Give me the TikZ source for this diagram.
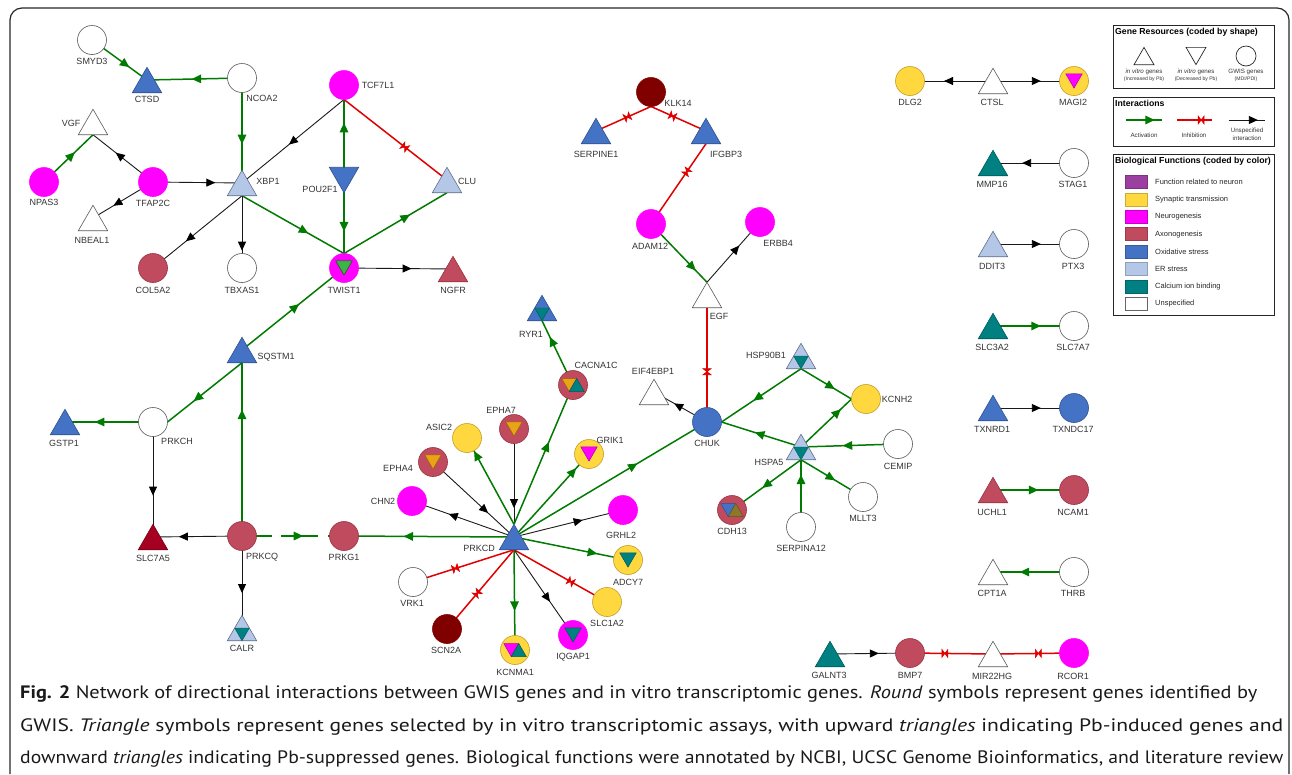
\documentclass[tikz,border=0pt]{standalone}
\usepackage{fontspec}
\usepackage{graphicx}
\setsansfont{Liberation Sans}
\newfontfamily\capfont{PT Sans}
\usetikzlibrary{shapes.geometric, arrows.meta, decorations.markings}
\pgfdeclarelayer{bg}
\pgfsetlayers{bg,main}
\definecolor{cFn}{RGB}{155,64,160}
\definecolor{cSyn}{RGB}{255,216,64}
\definecolor{cSynD}{RGB}{196,156,40}
\definecolor{cNeu}{RGB}{255,0,255}
\definecolor{cAxo}{RGB}{192,74,94}
\definecolor{cAxoD}{RGB}{150,50,66}
\definecolor{cOx}{RGB}{68,114,196}
\definecolor{cOxD}{RGB}{47,82,143}
\definecolor{cER}{RGB}{180,199,231}
\definecolor{cERD}{RGB}{95,110,140}
\definecolor{cCa}{RGB}{0,128,128}
\definecolor{cCaD}{RGB}{0,90,90}
\definecolor{cMar}{RGB}{128,0,0}
\definecolor{cCrim}{RGB}{165,0,33}
\definecolor{cCrimD}{RGB}{120,0,20}
\definecolor{cOrg}{RGB}{232,163,23}
\definecolor{cOrgD}{RGB}{150,100,10}
\definecolor{cOlive}{RGB}{140,120,40}
\definecolor{cLgr}{RGB}{60,180,70}
\definecolor{cWD}{RGB}{90,90,90}
\definecolor{gEdge}{RGB}{0,122,0}
\definecolor{rEdge}{RGB}{224,0,0}
\tikzset{
  gc/.style 2 args={circle, minimum size=29pt, inner sep=0pt, fill=#1, draw=#2, line width=0.6pt},
  tu/.style 2 args={regular polygon, regular polygon sides=3, minimum size=34pt, inner sep=0pt, yshift=-4.25pt, fill=#1, draw=#2, line width=0.6pt},
  td/.style 2 args={regular polygon, regular polygon sides=3, shape border rotate=180, minimum size=34pt, inner sep=0pt, yshift=4.25pt, fill=#1, draw=#2, line width=0.6pt},
  lbl/.style={font=\sffamily\fontsize{9}{10}\selectfont, text=black!80, inner sep=0pt},
  actv/.style={draw=gEdge, line width=1.5pt, postaction={decorate, decoration={markings, mark=at position #1 with {\arrow{Triangle[length=9.5pt,width=8.5pt,color=gEdge]}}}}},
  actv/.default=0.6,
  unsp/.style={draw=black!90, line width=0.9pt, postaction={decorate, decoration={markings, mark=at position #1 with {\arrow{Triangle[length=9pt,width=8pt,color=black]}}}}},
  unsp/.default=0.6,
  inhb/.style={draw=rEdge, line width=1.5pt, postaction={decorate, decoration={markings, mark=at position #1 with {\filldraw[rEdge, line width=0.6pt, line join=miter] (-3pt,-4pt) -- (-3pt,4pt) -- (3pt,-4pt) -- (3pt,4pt) -- cycle;}}}},
  inhb/.default=0.6,
  lgbox/.style={draw=black!85, line width=1.3pt, inner sep=0pt, anchor=north west, minimum width=161pt},
  lgtitle/.style={anchor=north west, inner sep=0pt, font=\sffamily\bfseries\fontsize{8.7}{10}\selectfont},
  lgsmall/.style={inner sep=0pt, font=\sffamily\fontsize{6.2}{7}\selectfont, text=black!80},
  lgtiny/.style={inner sep=0pt, font=\sffamily\fontsize{5.1}{6}\selectfont, text=black!80},
  lgitem/.style={anchor=west, inner sep=0pt, font=\sffamily\fontsize{7.5}{8}\selectfont, text=black!85},
  swatch/.style={minimum width=22pt, minimum height=13pt, inner sep=0pt, fill=#1, draw=#1!80!black, line width=0.5pt},
  captext/.style={anchor=base west, inner sep=0pt, font=\capfont\fontsize{18}{20}\selectfont, text=black!90},
}
\newcommand{\GC}[5]{\coordinate (#1) at (#2); \path (#1) ++(0,14.5) coordinate (#1-b); \path (#1) ++(0,-14.5) coordinate (#1-a); \path (#1) ++(14.5,0) coordinate (#1-r); \path (#1) ++(-14.5,0) coordinate (#1-l); \node[gc={#3}{#4}] (#1-s) at (#1) {}; \node[lbl] (#1-t) at (#5) {#1};}
\newcommand{\GU}[5]{\coordinate (#1) at (#2); \path (#1) ++(0,12.75) coordinate (#1-b); \path (#1) ++(0,-12.75) coordinate (#1-a); \node[tu={#3}{#4}] (#1-s) at (#1) {}; \node[lbl] (#1-t) at (#5) {#1};}
\newcommand{\GD}[5]{\coordinate (#1) at (#2); \node[td={#3}{#4}] (#1-s) at (#1) {}; \node[lbl] (#1-t) at (#5) {#1};}
\newcommand{\inD}[3]{\node[regular polygon, regular polygon sides=3, shape border rotate=180, minimum size=19pt, inner sep=0pt, yshift=2.4pt, fill=#2, draw=#3, line width=0.5pt] (#1-i) at (#1) {};}
\newcommand{\inP}[5]{\begin{scope}[shift={(#1)}]\filldraw[fill=#2, draw=#3, line width=0.5pt] (-11.25,-6.5) -- (3.75,-6.5) -- (-3.75,6.5) -- cycle; \filldraw[fill=#4, draw=#5, line width=0.5pt] (-3.75,6.5) -- (11.25,6.5) -- (3.75,-6.5) -- cycle;\end{scope}}
\newcommand{\inM}[1]{\begin{scope}[shift={(#1)}]\filldraw[fill=cCa, draw=cCaD, line width=0.4pt] (-7.36,0) -- (7.36,0) -- (0,12.75) -- cycle;\end{scope}}
\begin{document}
\begin{tikzpicture}[x=1pt, y=-1pt]
\useasboundingbox (0,0) rectangle (1292,774);
\draw[line width=1.2pt, black!85, rounded corners=12pt] (10,774) -- (10,8) -- (1289,8) -- (1289,774);
% ---------- genes ----------
\GC{SMYD3}{92,40}{white}{cWD}{92,61}
\GU{CTSD}{147,80}{cOx}{cOxD}{147,99}
\GC{NCOA2}{242,78}{white}{cWD}{262,98}
\GC{TCF7L1}{344,85}{cNeu}{cNeu}{378,85}
\GU{VGF}{93,122}{white}{cWD}{71,123}
\GC{NPAS3}{44,182}{cNeu}{cNeu}{44,202}
\GC{TFAP2C}{153,182}{cNeu}{cNeu}{153,203}
\GU{XBP1}{242,183}{cER}{cERD}{268,181}
\GD{POU2F1}{344,180}{cOx}{cOxD}{320,189}
\GU{CLU}{447,180}{cER}{cERD}{467,181}
\GU{NBEAL1}{93,218}{white}{cWD}{92,240}
\GC{COL5A2}{153,268}{cAxo}{cAxoD}{153,290}
\GC{TBXAS1}{242,268}{white}{cWD}{242,290}
\GC{TWIST1}{344,268}{cNeu}{cNeu}{344,290}
\GU{NGFR}{453,269}{cAxo}{cAxoD}{453,290}
\GC{KLK14}{651,92}{cMar}{cMar}{678,103}
\GU{SERPINE1}{596,131}{cOx}{cOxD}{596,154}
\GU{IFGBP3}{706,131}{cOx}{cOxD}{726,154}
\GC{ADAM12}{651,224}{cNeu}{cNeu}{650,246}
\GC{ERBB4}{760,222}{cNeu}{cNeu}{778,243}
\GU{EGF}{707,295}{white}{cWD}{719,316}
\GU{RYR1}{542,308}{cOx}{cOxD}{531,334}
\GU{SQSTM1}{242,350}{cOx}{cOxD}{276,357}
\GC{CACNA1C}{573,385}{cAxo}{cAxoD}{596,365}
\GU{EIF4EBP1}{654,392}{white}{cWD}{653,371}
\GC{CHUK}{707,422}{cOx}{cOxD}{707,443}
\GU{HSP90B1}{801,356}{cER}{cERD}{766,355}
\GC{KCNH2}{866,399}{cSyn}{cSynD}{897,399}
\GU{HSPA5}{801,447}{cER}{cERD}{769,462}
\GC{CEMIP}{898,444}{white}{cWD}{898,466}
\GC{CDH13}{732,510}{cAxo}{cAxoD}{732,531}
\GC{MLLT3}{863,497}{white}{cWD}{863,518}
\GC{SERPINA12}{801,527}{white}{cWD}{801,548}
\GC{PRKCH}{153,422}{white}{cWD}{177,441}
\GU{GSTP1}{65,422}{cOx}{cOxD}{64,443}
\GU{SLC7A5}{153,537}{cCrim}{cCrimD}{153,558}
\GC{PRKCQ}{242,536}{cAxo}{cAxoD}{262,557}
\GC{PRKG1}{344,536}{cAxo}{cAxoD}{344,557}
\GU{CALR}{242,628}{cER}{cERD}{242,648}
\GU{PRKCD}{514,537}{cOx}{cOxD}{479,548}
\GC{ASIC2}{467,438}{cSyn}{cSynD}{439,427}
\GC{EPHA7}{514,429}{cAxo}{cAxoD}{501,410}
\GC{EPHA4}{433,462}{cAxo}{cAxoD}{398,468}
\GC{GRIK1}{589,454}{cSyn}{cSynD}{610,440}
\GC{CHN2}{412,501}{cNeu}{cNeu}{383,501}
\GC{GRHL2}{623,510}{cNeu}{cNeu}{621,535}
\GC{ADCY7}{628,560}{cSyn}{cSynD}{628,582}
\GC{VRK1}{413,582}{white}{cWD}{412,603}
\GC{SLC1A2}{607,602}{cSyn}{cSynD}{607,623}
\GC{SCN2A}{447,629}{cMar}{cMar}{446,650}
\GC{IQGAP1}{573,635}{cNeu}{cNeu}{573,657}
\GC{KCNMA1}{515,650}{cSyn}{cSynD}{515,672}
\GU{GALNT3}{830,654}{cCa}{cCaD}{829,675}
\GC{BMP7}{910,653}{cAxo}{cAxoD}{910,675}
\GU{MIR22HG}{993,654}{white}{cWD}{992,676}
\GC{RCOR1}{1074,653}{cNeu}{cNeu}{1073,676}
\GC{DLG2}{910,81}{cSyn}{cSynD}{910,102}
\GU{CTSL}{993,81}{white}{cWD}{992,102}
\GC{MAGI2}{1074,81}{cSyn}{cSynD}{1073,102}
\GU{MMP16}{993,163}{cCa}{cCaD}{992,184}
\GC{STAG1}{1074,163}{white}{cWD}{1073,184}
\GU{DDIT3}{993,244}{cER}{cERD}{992,266}
\GC{PTX3}{1074,244}{white}{cWD}{1073,266}
\GU{SLC3A2}{993,326}{cCa}{cCaD}{992,347}
\GC{SLC7A7}{1074,326}{white}{cWD}{1073,347}
\GU{TXNRD1}{993,408}{cOx}{cOxD}{992,429}
\GC{TXNDC17}{1074,408}{cOx}{cOxD}{1073,429}
\GU{UCHL1}{993,490}{cAxo}{cAxoD}{992,512}
\GC{NCAM1}{1074,490}{cAxo}{cAxoD}{1073,512}
\GU{CPT1A}{993,572}{white}{cWD}{992,593}
\GC{THRB}{1074,572}{white}{cWD}{1073,593}
% ---------- inner marks ----------
\inD{TWIST1}{cLgr}{green!40!black}
\inD{EPHA4}{cOrg}{cOrgD}
\inD{EPHA7}{cOrg}{cOrgD}
\inD{GRIK1}{cNeu}{cNeu!70!black}
\inD{MAGI2}{cNeu}{cNeu!70!black}
\inD{ADCY7}{cCa}{cCaD}
\inD{IQGAP1}{cCa}{cCaD}
\inP{CACNA1C}{cOrg}{cOrgD}{cCa}{cCaD}
\inP{KCNMA1}{cNeu}{cNeu!70!black}{cCa}{cCaD}
\inP{CDH13}{cOx}{cOxD}{cOlive}{cOlive!70!black}
\inM{RYR1}
\inM{CALR}
\inM{HSP90B1}
\inM{HSPA5}
% ---------- connectors ----------
\begin{pgfonlayer}{bg}
\draw[actv=0.68] (SMYD3) -- (CTSD);
\draw[actv=0.53] (NCOA2) -- (CTSD);
\draw[actv=0.63] (NCOA2) -- (XBP1);
\draw[actv=0.63] (NPAS3) -- (VGF-b);
\draw[unsp=0.62] (TFAP2C) -- (VGF-b);
\draw[unsp=0.66] (TFAP2C) -- (NBEAL1);
\draw[unsp=0.70] (TFAP2C) -- (XBP1);
\draw[unsp=0.54] (TCF7L1-b) -- (XBP1);
\draw[actv=0.71] (POU2F1) -- (TCF7L1-b);
\draw[inhb=0.59] (TCF7L1-b) -- (CLU);
\draw[actv=0.70] (POU2F1) -- (TWIST1-a);
\draw[actv=0.65] (XBP1-b) -- (TWIST1-a);
\draw[actv=0.64] (TWIST1-a) -- (CLU-b);
\draw[unsp=0.63] (XBP1-b) -- (COL5A2);
\draw[unsp=0.76] (XBP1-b) -- (TBXAS1);
\draw[unsp=0.62] (TWIST1) -- (NGFR);
\draw[actv=0.56] (SQSTM1) -- (TWIST1);
\draw[actv=0.65] (SQSTM1-b) -- (PRKCH-r);
\draw[actv=0.66] (PRKCH) -- (GSTP1);
\draw[unsp=0.64] (PRKCH) -- (SLC7A5);
\draw[unsp=0.71] (PRKCQ) -- (SLC7A5);
\draw[actv=0.73] (PRKCQ) -- (SQSTM1-b);
\draw[actv=0.60, dash pattern=on 30pt off 9pt on 37pt off 10pt on 40pt] (PRKCQ) -- (PRKG1);
\draw[unsp=0.62] (PRKCQ) -- (CALR);
\draw[actv=0.65] (PRKCD) -- (PRKG1);
\draw[unsp=0.64] (PRKCD) -- (CHN2);
\draw[unsp=0.68] (EPHA4) -- (PRKCD);
\draw[actv=0.85] (PRKCD-a) -- (ASIC2);
\draw[unsp=0.83] (EPHA7) -- (PRKCD-a);
\draw[actv=0.59] (PRKCD-a) -- (CACNA1C);
\draw[actv=0.75] (CACNA1C) -- (RYR1-b);
\draw[actv=0.83] (PRKCD) -- (GRIK1);
\draw[actv=0.64] (PRKCD) -- (CHUK);
\draw[unsp=0.63] (PRKCD) -- (GRHL2);
\draw[actv=0.73] (PRKCD) -- (ADCY7);
\draw[inhb=0.61] (PRKCD-b) -- (SLC1A2);
\draw[unsp=0.61] (PRKCD-b) -- (IQGAP1);
\draw[actv=0.61] (PRKCD-b) -- (KCNMA1);
\draw[inhb=0.55] (PRKCD-b) -- (SCN2A);
\draw[inhb=0.58] (PRKCD-b) -- (VRK1);
\draw[unsp=0.62] (CHUK) -- (EIF4EBP1);
\draw[inhb=0.56] (EGF-b) -- (CHUK);
\draw[actv=0.80] (ADAM12) -- (EGF-a);
\draw[unsp=0.61] (EGF-a) -- (ERBB4);
\draw[inhb=0.35] (IFGBP3-b) -- (ADAM12);
\draw[inhb=0.43] (KLK14-b) -- (SERPINE1);
\draw[inhb=0.39] (KLK14-b) -- (IFGBP3);
\draw[actv=0.60] (HSP90B1-b) -- (CHUK-r);
\draw[actv=0.67] (HSP90B1-b) -- (KCNH2-l);
\draw[actv=0.58] (HSPA5) -- (CHUK-r);
\draw[actv=0.79] (HSPA5) -- (KCNH2-l);
\draw[actv=0.57] (CEMIP) -- (HSPA5);
\draw[actv=0.56] (HSPA5-b) -- (CDH13);
\draw[actv=0.78] (SERPINA12) -- (HSPA5-b);
\draw[actv=0.55] (HSPA5-b) -- (MLLT3);
\draw[unsp=0.61] (GALNT3) -- (BMP7);
\draw[inhb=0.58] (MIR22HG) -- (BMP7);
\draw[inhb=0.56] (MIR22HG) -- (RCOR1);
\draw[unsp=0.59] (CTSL) -- (DLG2);
\draw[unsp=0.59] (CTSL) -- (MAGI2);
\draw[unsp=0.64] (STAG1) -- (MMP16);
\draw[unsp=0.59] (DDIT3) -- (PTX3);
\draw[actv=0.59] (SLC3A2) -- (SLC7A7);
\draw[unsp=0.59] (TXNRD1) -- (TXNDC17);
\draw[actv=0.56] (UCHL1) -- (NCAM1);
\draw[actv=0.67] (THRB) -- (CPT1A);
\end{pgfonlayer}
% ---------- legend ----------
\node[lgbox, minimum height=63pt] (lgb1) at (1113,25) {};
\node[lgtitle] (lgt1) at (1115,27.5) {Gene Resources (coded by shape)};
\node[regular polygon, regular polygon sides=3, minimum size=23pt, inner sep=0pt, yshift=-2.9pt, draw=black!85, line width=0.7pt] (lgup) at (1144,56) {};
\node[regular polygon, regular polygon sides=3, shape border rotate=180, minimum size=23pt, inner sep=0pt, yshift=2.9pt, draw=black!85, line width=0.7pt] (lgdn) at (1196,56) {};
\node[circle, minimum size=20pt, inner sep=0pt, draw=black!85, line width=0.7pt] (lgci) at (1246,56) {};
\node[lgsmall] (lgs1) at (1144,72) {\textit{in vitro} genes};
\node[lgtiny] (lgs1b) at (1144,79) {(Increased by Pb)};
\node[lgsmall] (lgs2) at (1196,72) {\textit{in vitro} genes};
\node[lgtiny] (lgs2b) at (1196,79) {(Decreased by Pb)};
\node[lgsmall] (lgs3) at (1246,72) {GWIS genes};
\node[lgtiny] (lgs3b) at (1246,79) {(MDI/PDI)};
\node[lgbox, minimum height=49pt] (lgb2) at (1113,97) {};
\node[lgtitle] (lgt2) at (1115,99.5) {Interactions};
\coordinate (la1) at (1126,120); \coordinate (la2) at (1162,120);
\coordinate (li1) at (1177,120); \coordinate (li2) at (1212,120);
\coordinate (lu1) at (1229,120); \coordinate (lu2) at (1265,120);
\draw[actv=0.8] (la1) -- (la2);
\draw[inhb=0.69] (li1) -- (li2);
\draw[unsp=0.8] (lu1) -- (lu2);
\node[lgsmall] (lga) at (1144,135) {Activation};
\node[lgsmall] (lgi) at (1194,135) {Inhibition};
\node[lgsmall] (lgu) at (1247,131) {Unspecified};
\node[lgsmall] (lgu2) at (1247,138) {interaction};
\node[lgbox, minimum height=161pt] (lgb3) at (1113,154) {};
\node[lgtitle] (lgt3) at (1115,156.5) {Biological Functions (coded by color)};
\node[swatch=cFn] (sw1) at (1136,182) {};
\node[swatch=cSyn] (sw2) at (1136,199.4) {};
\node[swatch=cNeu] (sw3) at (1136,216.8) {};
\node[swatch=cAxo] (sw4) at (1136,234.2) {};
\node[swatch=cOx] (sw5) at (1136,251.6) {};
\node[swatch=cER] (sw6) at (1136,269) {};
\node[swatch=cCa] (sw7) at (1136,286.4) {};
\node[minimum width=22pt, minimum height=13pt, inner sep=0pt, fill=white, draw=black!60, line width=0.5pt] (sw8) at (1136,303.8) {};
\node[lgitem] (it1) at (1155,182) {Function related to neuron};
\node[lgitem] (it2) at (1155,199.4) {Synaptic transmission};
\node[lgitem] (it3) at (1155,216.8) {Neurogenesis};
\node[lgitem] (it4) at (1155,234.2) {Axonogenesis};
\node[lgitem] (it5) at (1155,251.6) {Oxidative stress};
\node[lgitem] (it6) at (1155,269) {ER stress};
\node[lgitem] (it7) at (1155,286.4) {Calcium ion binding};
\node[lgitem] (it8) at (1155,303.8) {Unspecified};
% ---------- caption ----------
\node[captext] (cap1) at (20,698) {\resizebox{1237pt}{\height}{\textbf{Fig. 2} Network of directional interactions between GWIS genes and in vitro transcriptomic genes. \textit{Round} symbols represent genes identified by}};
\node[captext] (cap2) at (20,731) {\resizebox{1263pt}{\height}{GWIS. \textit{Triangle} symbols represent genes selected by in vitro transcriptomic assays, with upward \textit{triangles} indicating Pb-induced genes and}};
\node[captext] (cap3) at (20,763) {\resizebox{1263pt}{\height}{downward \textit{triangles} indicating Pb-suppressed genes. Biological functions were annotated by NCBI, UCSC Genome Bioinformatics, and literature review}};
\end{tikzpicture}
\end{document}
